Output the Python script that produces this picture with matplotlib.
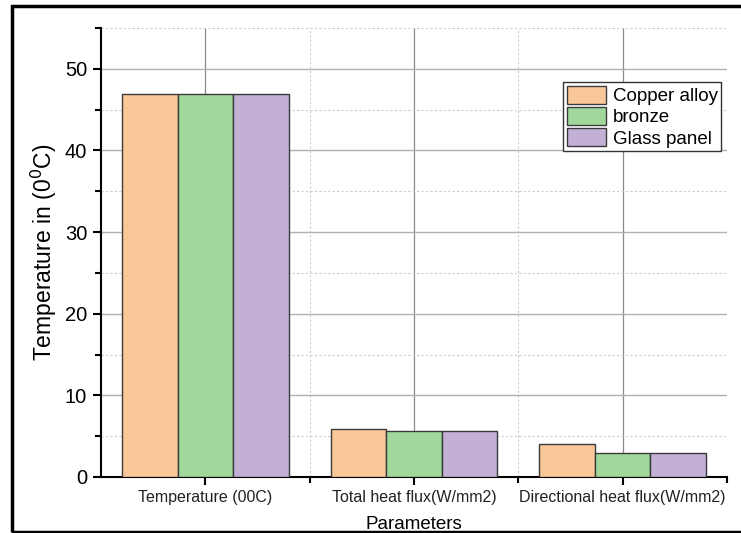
import numpy as np
import matplotlib.pyplot as plt
from matplotlib.patches import Rectangle
from matplotlib.ticker import MultipleLocator, FixedLocator

plt.rcParams['font.family'] = ['Liberation Sans', 'DejaVu Sans']

# data
categories = ["Temperature (00C)", "Total heat flux(W/mm2)", "Directional heat flux(W/mm2)"]
series_names = ["Copper alloy", "bronze", "Glass panel"]
copper_alloy = [46.9, 5.9, 4.0]
bronze = [46.9, 5.65, 3.0]
glass_panel = [46.9, 5.65, 3.0]
colors = ["#FAC898", "#A0D89C", "#C2B0D6"]

fig = plt.figure(figsize=(7.41, 5.33), dpi=100)
ax = fig.add_axes([101 / 741, 1 - 477 / 533, 626 / 741, 449 / 533])

x = np.arange(len(categories))
width = 0.8 / 3
for i, (vals, name) in enumerate(zip([copper_alloy, bronze, glass_panel], series_names)):
    ax.bar(x + (i - 1) * width, vals, width, color=colors[i], edgecolor="#3a3a3a",
           linewidth=1.0, label=name, zorder=3)

ax.set_xlim(-0.5, 2.5)
ax.set_ylim(0, 55)
ax.set_xticks(x)
ax.set_xticklabels(categories, fontsize=11.5, color="#222222")
ax.xaxis.set_minor_locator(FixedLocator([0.5, 1.5, 2.5]))
ax.yaxis.set_major_locator(MultipleLocator(10))
ax.yaxis.set_minor_locator(MultipleLocator(5))
ax.tick_params(axis="y", labelsize=14.5, pad=4)
ax.tick_params(which="major", length=6, width=1.5, direction="out")
ax.tick_params(which="minor", length=4, width=1.5, direction="out")

ax.grid(which="major", axis="y", color="#b0b0b0", linewidth=1.0, zorder=0)
ax.grid(which="major", axis="x", color="#8a8a8a", linewidth=0.9, zorder=0)
ax.grid(which="minor", color="#cccccc", linestyle=(0, (2, 2)), linewidth=0.8, zorder=0)
ax.set_axisbelow(True)

for side in ["top", "right"]:
    ax.spines[side].set_visible(False)
for side in ["left", "bottom"]:
    ax.spines[side].set_linewidth(1.5)

ax.set_ylabel("Temperature in (0$^0$C)", fontsize=16.5, labelpad=4)
ax.set_xlabel("Parameters", fontsize=13.5, labelpad=8)

leg = ax.legend(loc="upper left", bbox_to_anchor=(0.738, 0.88), fontsize=13.5,
                frameon=True, fancybox=False, edgecolor="#333333", framealpha=1,
                borderpad=0.2, handlelength=2.1, handleheight=1.1, handletextpad=0.35,
                labelspacing=0.1, borderaxespad=0)
leg.get_frame().set_linewidth(1.0)

# outer frame around the figure (right edge runs off the image)
fig.patches.append(Rectangle((12 / 741, 1 / 533), 1.0, 526 / 533, transform=fig.transFigure,
                             fill=False, edgecolor="black", linewidth=2.5))

fig.savefig("out.png", dpi=100)
